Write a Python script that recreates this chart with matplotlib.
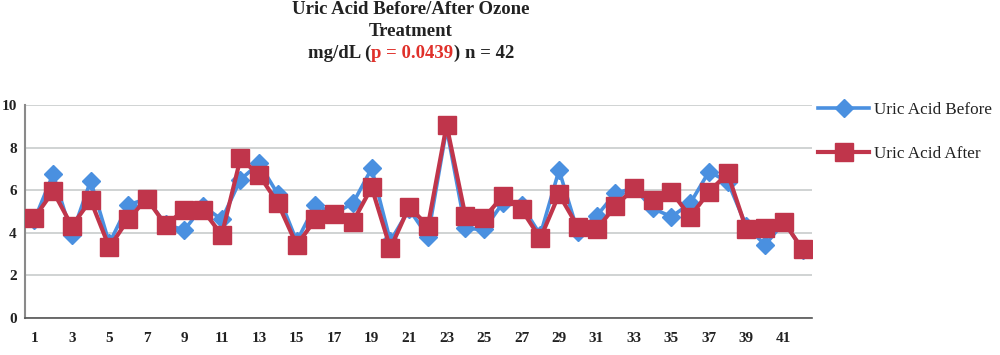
import matplotlib
matplotlib.use("Agg")
import matplotlib.pyplot as plt
import numpy as np

patients = list(range(1, 43))
before = [4.6, 6.76, 3.9, 6.44, 3.5, 5.3, 5.6, 4.4, 4.12, 5.25,
          4.62, 6.5, 7.26, 5.8, 3.6, 5.3, 4.9, 5.38, 7.02, 3.6,
          5.1, 3.81, 8.9, 4.2, 4.15, 5.4, 5.3, 3.9, 6.94, 4.05,
          4.78, 5.85, 6.1, 5.14, 4.75, 5.38, 6.87, 6.4, 4.3, 3.42,
          4.5, 3.2]
after = [4.7, 5.95, 4.31, 5.53, 3.31, 4.62, 5.6, 4.36, 5.06, 5.06,
         3.89, 7.49, 6.71, 5.38, 3.42, 4.62, 4.87, 4.51, 6.13, 3.26,
         5.22, 4.31, 9.06, 4.8, 4.7, 5.72, 5.09, 3.73, 5.8, 4.28,
         4.15, 5.25, 6.08, 5.53, 5.92, 4.75, 5.92, 6.79, 4.15, 4.2,
         4.51, 3.21]
yticks = [0, 2, 4, 6, 8, 10]
xtick_labels = [str(i) for i in patients if i % 2 == 1]

BLUE = '#4a90e0'
RED = '#c0354b'
FONT = 'Liberation Serif'

fig = plt.figure(figsize=(10, 3.55), dpi=100)
ax = fig.add_axes([0.025, 0.105, 0.787, 0.599])

x = np.array(patients)
ax.plot(x, before, color=BLUE, lw=2.6, marker='D', ms=9, mec=BLUE, mfc=BLUE,
        label='Uric Acid Before', zorder=3)
ax.plot(x, after, color=RED, lw=3.0, marker='s', ms=13, mec=RED, mfc=RED,
        label='Uric Acid After', zorder=4)

ax.set_xlim(0.5, 42.5)
ax.set_ylim(0, 10)
ax.set_yticks(yticks)
ax.set_xticks([i for i in patients if i % 2 == 1])
ax.set_xticklabels(xtick_labels)
ax.yaxis.grid(True, color='#c8cccc', lw=1.2)
ax.set_axisbelow(True)
for s in ['top', 'right']:
    ax.spines[s].set_visible(False)
ax.spines['left'].set_color('#8a8a8a')
ax.spines['bottom'].set_color('#555555')
ax.spines['left'].set_linewidth(1.5)
ax.spines['bottom'].set_linewidth(1.2)
ax.tick_params(length=0)
ax.tick_params(axis='y', pad=6)
ax.tick_params(axis='x', pad=10)
for lab in ax.get_xticklabels() + ax.get_yticklabels():
    lab.set_fontfamily(FONT)
    lab.set_fontweight('bold')
    lab.set_fontsize(11)
    lab.set_color('#222222')

leg = fig.legend(loc='upper left', bbox_to_anchor=(0.818, 0.712), frameon=False,
                 handlelength=3.0, labelspacing=1.6, handletextpad=0.25,
                 borderpad=0, borderaxespad=0,
                 prop={'family': FONT, 'size': 12.3})
for t in leg.get_texts():
    t.set_color('#222222')

# titles
tkw = dict(fontfamily=FONT, fontweight='bold', fontsize=13.5, color='#222222')
fig.text(0.411, 1 - 9 / 355, 'Uric Acid Before/After Ozone', ha='center', va='center', **tkw)
fig.text(0.411, 1 - 31 / 355, 'Treatment', ha='center', va='center', **tkw)

renderer = fig.canvas.get_renderer()
parts = [('mg/dL (', '#222222'), ('p = 0.0439', '#e0302a'), (') n = 42', '#222222')]
texts = []
for s, c in parts:
    kw = dict(tkw)
    kw['color'] = c
    texts.append(fig.text(0, 1 - 53 / 355, s, ha='left', va='center', **kw))
widths = [t.get_window_extent(renderer).width / fig.bbox.width for t in texts]
total = sum(widths)
xs = 0.411 - total / 2
for t, w in zip(texts, widths):
    t.set_x(xs)
    xs += w

fig.savefig('out.png', dpi=100)
